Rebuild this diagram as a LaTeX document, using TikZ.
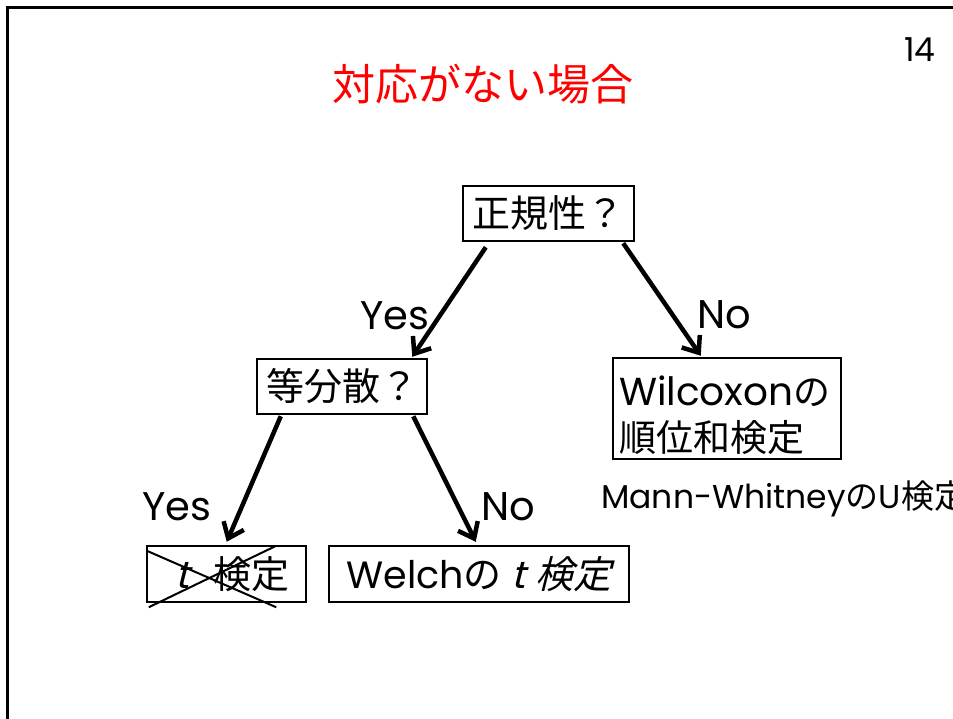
\documentclass[tikz,border=0pt]{standalone}
\usepackage{fontspec}
\setmainfont{Noto Sans CJK JP}
\newfontfamily\lat{Poppins}
\newfontfamily\jpslant[FakeSlant=0.25]{Noto Sans CJK JP}
\newfontfamily\latslant[FakeSlant=0.25]{Poppins}
\usetikzlibrary{arrows.meta}
\tikzset{
  box/.style={draw=black, line width=2.5pt, rectangle, inner sep=0pt, font=\fontsize{38}{45}\selectfont},
  arr/.style={line width=4.5pt, -{Straight Barb[length=14pt,width=22pt,line width=4.5pt]}},
  lbl/.style={font=\lat\fontsize{40}{44}\selectfont, inner sep=0pt},
}
\begin{document}
\begin{tikzpicture}[x=1pt,y=-1pt]
\useasboundingbox (0,0) rectangle (953,719);
\begin{scope}
\clip (0,0) rectangle (953,719);
\draw[line width=3pt] (7,760) -- (7,7.5) -- (1000,7.5);
\end{scope}
\node[font=\lat\fontsize{33}{36}\selectfont, inner sep=0pt] (page) at (920,50) {14};
\node[font=\fontsize{43}{48}\selectfont, text=red, inner sep=0pt] (title) at (483,84) {対応がない場合};

\node[box, minimum width=171pt, minimum height=55pt] (n1) at (548.5,213.5) {正規性？};
\node[box, minimum width=170pt, minimum height=55pt] (n2) at (342,386.5) {等分散？};
\node[box, minimum width=228pt, minimum height=101pt, align=left, text width=216pt, font=\fontsize{37}{46}\selectfont] (n3) at (727,408.5) {\rule{0pt}{44pt}{\lat\fontsize{39}{46}\selectfont Wilcoxon}の\\順位和検定};
\node[box, minimum width=159pt, minimum height=56pt, align=left, text width=150pt] (n4) at (226.5,574) {\hspace*{24pt}{\latslant t}\hspace*{24pt}検定};
\node[box, minimum width=300pt, minimum height=56pt] (n5) at (479,574) {{\lat Welch}の\hspace{10pt}{\latslant t}\hspace{10pt}{\jpslant 検定}};

\draw[line width=2pt] ([xshift=1pt,yshift=-6pt]n4.north west) -- ([xshift=-31pt,yshift=-4pt]n4.south east);
\draw[line width=2pt] ([xshift=3pt,yshift=-4pt]n4.south west) -- ([xshift=-31pt,yshift=-1pt]n4.north east);

\draw[arr] ([xshift=24pt,yshift=-5pt]n1.south west) -- ([xshift=-16pt,yshift=1pt]n2.north east);
\draw[arr] ([xshift=-12pt,yshift=-1pt]n1.south east) -- ([xshift=89pt,yshift=1pt]n3.north west);
\draw[arr] ([xshift=25pt,yshift=-1pt]n2.south west) -- ([xshift=81pt,yshift=3pt]n4.north west);
\draw[arr] ([xshift=-15pt,yshift=-1pt]n2.south east) -- ([xshift=148pt,yshift=3pt]n5.north west);

\node[lbl] (y1) at (395,316) {Yes};
\node[lbl] (no1) at (724,315) {No};
\node[lbl] (y2) at (177,507) {Yes};
\node[lbl] (no2) at (508,507) {No};
\node[lbl, anchor=west, font=\fontsize{33}{36}\selectfont] (mw) at (601,499) {{\lat Mann-Whitney}の{\lat U}検定};
\end{tikzpicture}
\end{document}
